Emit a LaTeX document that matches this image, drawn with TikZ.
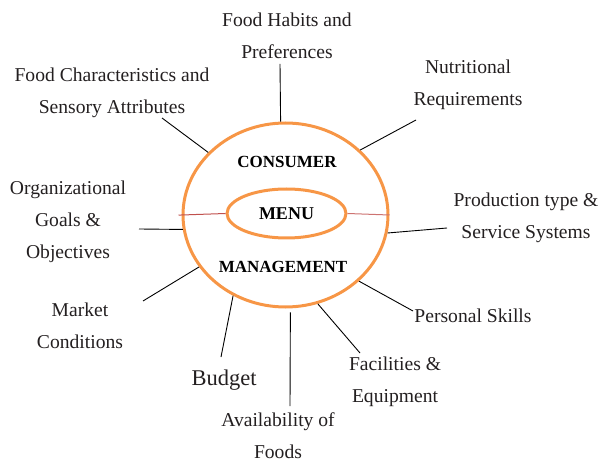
\documentclass[tikz,border=0pt]{standalone}
\usepackage{fontspec}
\setmainfont{Liberation Serif}
\usetikzlibrary{shapes.geometric}
\definecolor{RingClr}{RGB}{247,150,70}
\definecolor{TieClr}{RGB}{192,80,77}
\definecolor{TextClr}{RGB}{35,31,32}

\begin{document}
\begin{tikzpicture}[x=1pt,y=-1pt,
  ring/.style={draw=RingClr,line width=3pt,ellipse,inner sep=0pt},
  factor/.style={text=TextClr,align=center,font=\fontsize{19.6}{32}\selectfont},
  core/.style={text=black,font=\bfseries\fontsize{17}{20}\selectfont},
  spoke/.style={line width=0.9pt,color=black}]
\useasboundingbox (0,0) rectangle (602,462);

\node[ring,minimum width=205pt,minimum height=184pt] (Ring) at (285.5,215) {};
\node[ring,core,font=\bfseries\fontsize{18}{20}\selectfont,minimum width=119pt,minimum height=49pt] (Menu) at (286.5,213.5) {MENU};
\node[core] (Consumer) at (287,162) {CONSUMER};
\node[core] (Management) at (283,267) {MANAGEMENT};

\draw[TieClr,line width=1pt,shorten >=-3pt] (Menu.west) -- (Ring.west);
\draw[TieClr!80,line width=1pt] (Menu.east) -- (Ring.east);

\node[factor] (Habits) at (287,36) {Food Habits and\\Preferences};
\node[factor] (Charac) at (112,92.5) {Food Characteristics and\\Sensory Attributes};
\node[factor] (Nutri) at (468,85) {Nutritional\\Requirements};
\node[factor] (Prod) at (526,217.5) {Production type \&\\Service Systems};
\node[factor] (Org) at (68,222) {Organizational\\Goals \&\\Objectives};
\node[factor] (Market) at (80,325.5) {Market\\Conditions};
\node[factor,font=\fontsize{22.5}{27}\selectfont] (Budget) at (224,380) {Budget};
\node[factor] (Avail) at (278,435.5) {Availability of\\Foods};
\node[factor] (Facil) at (395,382) {Facilities \&\\Equipment};
\node[factor] (Skills) at (473,316) {Personal Skills};

\coordinate (HabitsEnd) at (280,64);
\coordinate (CharacEnd) at (162,118);
\coordinate (NutriEnd) at (416,120);
\coordinate (ProdEnd) at (447,228);
\coordinate (OrgEnd) at (139,229);
\coordinate (MarketEnd) at (143,301);
\coordinate (BudgetEnd) at (221,357);
\coordinate (AvailEnd) at (290,406);
\coordinate (FacilEnd) at (360,353);
\coordinate (SkillsEnd) at (413,311);

\draw[spoke] (Ring.93) -- (HabitsEnd);
\draw[spoke] (Ring.141) -- (CharacEnd);
\draw[spoke] (Ring.41) -- (NutriEnd);
\draw[spoke] (Ring.350) -- (ProdEnd);
\draw[spoke] (Ring.188) -- (OrgEnd);
\draw[spoke] (Ring.211) -- (MarketEnd);
\draw[spoke] (Ring.237) -- (BudgetEnd);
\draw[spoke,shorten <=4pt] (Ring.273) -- (AvailEnd);
\draw[spoke] (Ring.290) -- (FacilEnd);
\draw[spoke] (Ring.318) -- (SkillsEnd);

\end{tikzpicture}
\end{document}
